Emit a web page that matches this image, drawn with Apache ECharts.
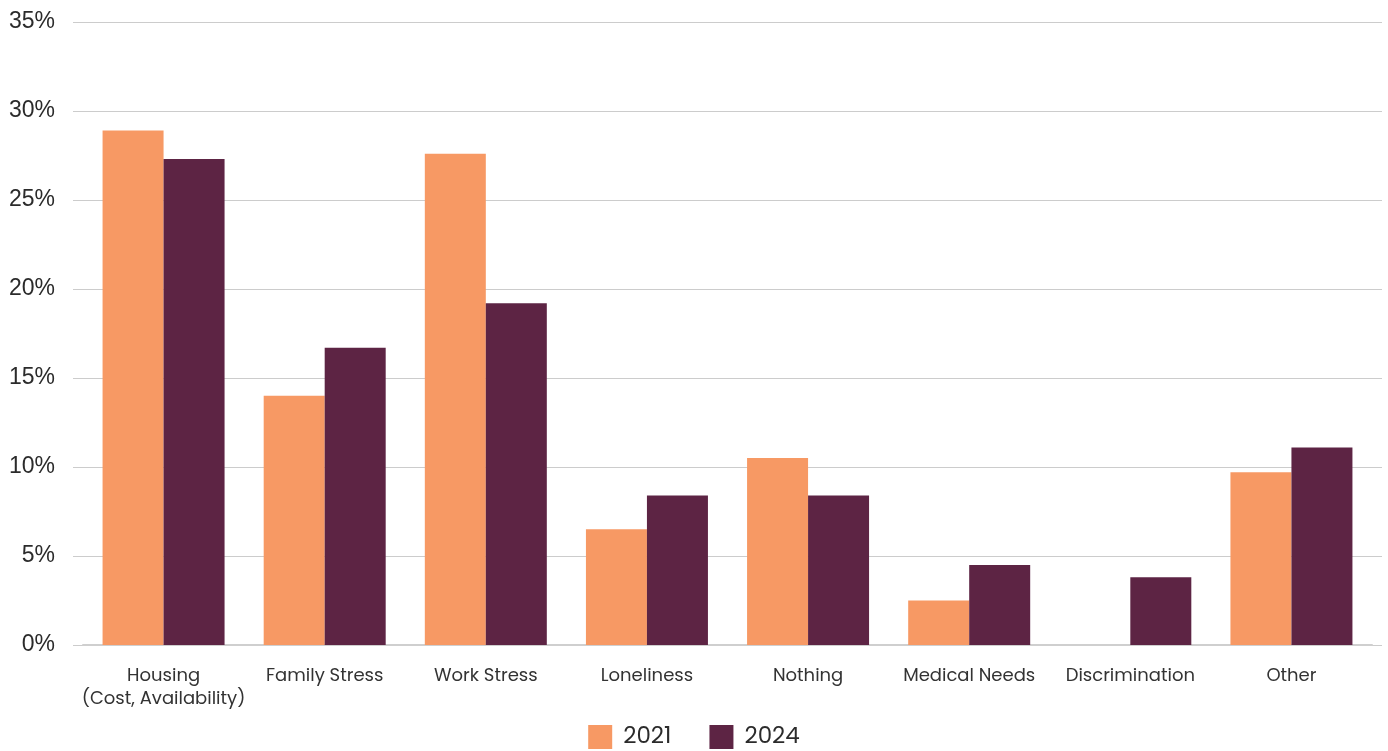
<!DOCTYPE html>
<html>
<head>
<meta charset="utf-8">
<script src="https://cdn.jsdelivr.net/npm/echarts@6/dist/echarts.min.js"></script>
<style>
  html, body { margin: 0; padding: 0; background: #fff; }
  #chart { width: 1388px; height: 751px; }
</style>
</head>
<body>
<div id="chart"></div>
<script>
// Stressors reported, share of respondents (%)
const categories = [
  'Housing\n(Cost, Availability)', 'Family Stress', 'Work Stress', 'Loneliness',
  'Nothing', 'Medical Needs', 'Discrimination', 'Other'
];
const values2021 = [28.9, 14.0, 27.6, 6.5, 10.5, 2.5, 0, 9.7];
const values2024 = [27.3, 16.7, 19.2, 8.4, 8.4, 4.5, 3.8, 11.1];
const yTicks = { min: 0, max: 35, interval: 5 };

const chart = echarts.init(document.getElementById('chart'), null, { renderer: 'canvas' });

const labelFont = 'Poppins, "Noto Sans", "Open Sans", sans-serif';

chart.setOption({
  animation: false,
  backgroundColor: '#ffffff',
  legend: {
    top: 720,
    left: 'center',
    itemWidth: 24,
    itemHeight: 24,
    itemGap: 38,
    icon: 'rect',
    textStyle: { fontFamily: labelFont, fontSize: 23, color: '#2b2b2b', padding: [0, 0, 0, 6] },
    data: ['2021', '2024']
  },
  grid: [
    // wide grid carrying the gridlines and percentage labels
    { left: 73, right: 6, top: 22, bottom: 106 },
    // inner grid carrying the bars
    { left: 83, right: 16, top: 22, bottom: 106 }
  ],
  xAxis: [
    { gridIndex: 0, type: 'category', data: categories, show: false },
    {
      gridIndex: 1,
      type: 'category',
      data: categories,
      axisLine: { lineStyle: { color: '#cfcfcf', width: 2 } },
      axisTick: { show: false },
      axisLabel: {
        interval: 0,
        margin: 20,
        fontFamily: labelFont,
        fontSize: 18,
        lineHeight: 23,
        color: '#333333'
      }
    }
  ],
  yAxis: [
    {
      gridIndex: 0,
      type: 'value',
      min: yTicks.min,
      max: yTicks.max,
      interval: yTicks.interval,
      axisLine: { show: false },
      axisTick: { show: false },
      splitLine: { lineStyle: { color: '#cccccc', width: 1.2 } },
      axisLabel: {
        margin: 18,
        padding: [3, 0, 0, 0],
        fontFamily: '"Liberation Sans", Arial, sans-serif',
        fontSize: 23,
        color: '#2b2b2b',
        formatter: '{value}%'
      }
    },
    {
      gridIndex: 1,
      type: 'value',
      min: yTicks.min,
      max: yTicks.max,
      interval: yTicks.interval,
      show: false,
      splitLine: { show: false }
    }
  ],
  series: [
    {
      name: '2021',
      type: 'bar',
      xAxisIndex: 1,
      yAxisIndex: 1,
      data: values2021,
      barWidth: 61,
      barGap: '0%',
      itemStyle: { color: '#F79964' }
    },
    {
      name: '2024',
      type: 'bar',
      xAxisIndex: 1,
      yAxisIndex: 1,
      data: values2024,
      barWidth: 61,
      barGap: '0%',
      itemStyle: { color: '#5D2444' }
    }
  ]
});
</script>
</body>
</html>
